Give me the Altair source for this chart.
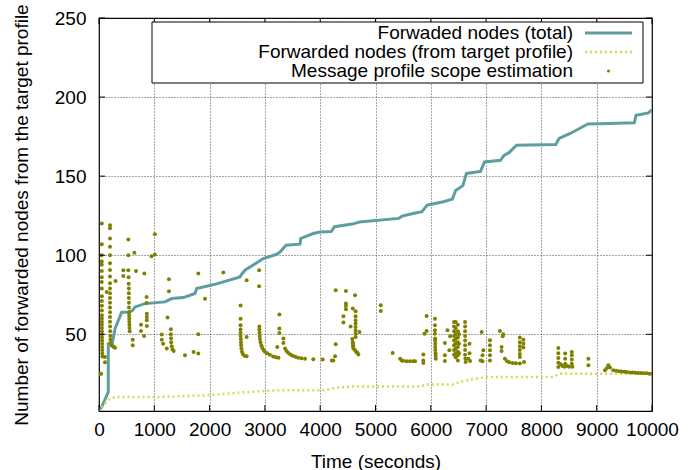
import altair as alt
import pandas as pd

# ---------------- data ----------------
total_t = [0, 48, 168, 168, 241, 290, 410, 530, 603, 651, 832, 1193, 1314, 1525, 1736, 1766,
           2098, 2550, 2580, 2640, 2881, 2971, 3213, 3273, 3382, 3635, 3647, 3875, 3996, 4200,
           4258, 4580, 4710, 5420, 5480, 5680, 5840, 5935, 6230, 6390, 6450, 6580, 6645, 6900,
           6970, 7260, 7320, 7420, 7550, 8260, 8320, 8520, 8840, 9230, 9680, 9710, 9935, 10000]
total_y = [2, 4, 13.5, 44, 44.5, 53.6, 64, 64, 65, 67.3, 69.4, 70.5, 72.6, 73.2, 75.8, 78.9,
           81.6, 86.3, 88, 90.5, 95.8, 97.9, 100.6, 102, 106.3, 107, 110.6, 113.7, 114.7, 115,
           118, 119.7, 121, 123.3, 124.7, 126.4, 127.5, 131.7, 133.8, 135.5, 141, 144, 151.7, 153,
           159, 160, 163, 165, 169.6, 170, 173.8, 177, 183, 183.3, 183.7, 188.5, 190, 192]

target_t = [0, 108, 199, 290, 1014, 1947, 2610, 3213, 4050, 4300, 4600, 5800, 5925, 6400,
            6530, 6770, 7010, 8210, 8340, 10000]
target_y = [1, 6.3, 9.3, 10.3, 10.3, 11.4, 13.3, 14.6, 14.6, 16.2, 17, 17, 18.3, 18.3,
            19.8, 21.7, 23, 23, 25.1, 25.1]

scope_points = [
    (0, 25), (20, 25), (40, 25),
    (50, 120), (50, 107), (48, 100), (50, 96), (50, 94), (50, 90), (50, 86), (50, 83), (50, 79),
    (52, 74), (52, 71), (52, 68), (52, 65), (52, 62), (52, 60), (52, 58), (52, 56), (52, 54),
    (54, 52), (54, 50), (54, 48), (56, 46), (56, 44), (58, 42), (58, 40), (60, 38), (62, 36),
    (108, 35.6), (108, 32.4), (140, 76.8),
    (199, 119), (199, 117), (199, 110.6), (199, 105.4), (199, 100), (199, 94.9), (199, 90.7),
    (199, 86.5), (199, 82.3), (199, 79), (199, 76), (199, 73), (199, 70), (199, 67), (199, 64),
    (199, 61), (199, 58), (201, 55), (203, 52), (205, 49), (207, 46.5), (210, 44.5), (230, 43),
    (250, 42.5), (270, 42), (290, 41.5), (300, 83.7),
    (440, 90.5), (440, 86.9), (530, 110), (530, 100), (530, 90.5), (535, 86), (537, 82), (540, 79),
    (540, 76), (540, 73), (542, 70), (542, 67), (545, 64), (545, 62), (547, 60), (547, 58),
    (550, 56), (552, 54), (555, 52), (610, 46.6), (610, 43), (640, 101.5), (670, 90),
    (760, 56.1), (760, 52.1), (815, 48.9), (820, 88.4), (860, 73.6), (860, 69.8), (865, 63),
    (865, 61), (865, 58.9), (865, 55.3), (950, 99.4), (1010, 100.4), (1010, 113.3),
    (1135, 49.8), (1135, 46.6), (1160, 44), (1225, 41), (1240, 60.6), (1265, 84.8), (1265, 77.2),
    (1300, 53.2), (1300, 50), (1302, 47.5), (1305, 45), (1315, 42.5), (1330, 40.5), (1350, 39.4),
    (1555, 36.7), (1710, 38.8), (1796, 37.8), (1796, 50), (1796, 88.4), (1917, 72.4), (2248, 89),
    (2560, 68.2), (2560, 59.9), (2560, 55.7), (2560, 53), (2560, 51), (2562, 49), (2565, 47),
    (2567, 45), (2570, 43), (2575, 41), (2585, 39), (2600, 37.5), (2630, 36.5), (2670, 36.1),
    (2670, 48.3), (2670, 84.2),
    (2895, 90.5), (2895, 80.4), (2900, 55), (2900, 53), (2902, 51), (2905, 49), (2910, 47),
    (2920, 45), (2935, 43), (2950, 41.5), (2975, 40), (3000, 39), (3040, 38), (3090, 37),
    (3150, 36), (3200, 35.5), (3245, 35.2), (3225, 42), (3262, 62.5), (3262, 53.6), (3262, 50.8),
    (3335, 47.3), (3335, 44.5), (3365, 41), (3390, 39.5), (3420, 38.3), (3460, 37.3), (3500, 36.5),
    (3550, 35.8), (3600, 35.2), (3660, 34.9), (3725, 34.6), (3875, 34.2), (4045, 34),
    (4210, 33.5), (4237, 33.5), (4270, 36.1), (4280, 43.7), (4280, 77.8),
    (4420, 61.4), (4420, 57.4), (4465, 77.4), (4465, 69.4), (4465, 67.9), (4465, 65.8), (4550, 55),
    (4580, 47), (4590, 66.3), (4590, 45), (4592, 44), (4595, 43), (4598, 42), (4600, 41),
    (4630, 39.9), (4650, 38.8), (4670, 38.5), (4690, 37.3), (4630, 74.7),
    (4640, 64.6), (4640, 61.4), (4640, 58.9), (4640, 56.8), (4640, 54.6), (4640, 52.5),
    (4640, 50.4), (4640, 48.3), (4710, 51.5),
    (5095, 68.4), (5095, 64.7), (5310, 38.2), (5445, 34.6), (5475, 33.5), (5500, 33.2),
    (5560, 32.9), (5620, 32.9), (5680, 32.9), (5715, 32.9),
    (5865, 37.3), (5865, 33.5), (5865, 31.8), (5885, 50.4), (5925, 52.1), (5925, 61.6),
    (6075, 59.9), (6075, 55.7), (6075, 52.5), (6075, 50.4), (6078, 47.3), (6078, 46), (6080, 44),
    (6080, 42), (6082, 40), (6085, 38), (6088, 36.5), (6090, 34.6),
    (6255, 44.5), (6255, 36.7), (6255, 33.1), (6300, 52.5), (6335, 39.9), (6350, 48.7),
    (6420, 57.8), (6420, 55), (6420, 52), (6420, 49), (6420, 46), (6420, 43), (6420, 40), (6420, 37),
    (6450, 57.8), (6450, 54), (6450, 50), (6450, 47), (6450, 44), (6450, 41), (6450, 38), (6450, 35.5),
    (6490, 56), (6490, 52), (6490, 48), (6490, 45), (6490, 42), (6490, 39), (6490, 36.7), (6490, 33.5),
    (6510, 50), (6510, 44), (6510, 38),
    (6620, 57.8), (6620, 55), (6620, 52), (6620, 49), (6620, 46), (6620, 43), (6620, 40), (6620, 37),
    (6625, 34.5), (6630, 32.5), (6680, 34.6), (6710, 33.1), (6700, 44), (6700, 38),
    (6900, 33.5), (6920, 51.5), (6935, 36.7), (6935, 32.9), (6950, 39.9), (7070, 46.2), (7070, 43),
    (7070, 39.9), (7070, 36.7), (7070, 33.5),
    (7250, 52.1), (7280, 42), (7280, 39.4), (7300, 48.7), (7310, 50), (7340, 34.6), (7380, 33),
    (7420, 32.3), (7480, 31.9), (7540, 31.7), (7610, 31.6),
    (7610, 47.9), (7610, 45), (7610, 42.5), (7610, 40), (7610, 37.5), (7610, 35.6), (7675, 46.6),
    (7675, 44.1), (7675, 41.6), (7685, 32.5),
    (8306, 41.3), (8306, 38), (8306, 35), (8306, 32), (8306, 29.3), (8350, 31), (8380, 30),
    (8420, 29.5), (8430, 37.8), (8430, 34.6), (8430, 31.4), (8470, 30), (8500, 29.5), (8550, 38.8),
    (8550, 36.7), (8550, 34), (8550, 31.4), (8560, 29.5), (8850, 34.6), (8850, 30.4),
    (9150, 27.2), (9180, 28.5), (9210, 30.4), (9240, 29), (9300, 27.2), (9350, 27), (9400, 26.6),
    (9450, 26.5), (9500, 26.3), (9543, 26.1), (9600, 25.9), (9650, 25.8), (9700, 25.7),
    (9750, 25.6), (9800, 25.5), (9850, 25.4), (9905, 25.3), (9950, 25.1), (10000, 25),
]

x_ticks = list(range(0, 10001, 1000))
y_ticks = [50, 100, 150, 200, 250]
legend_labels = ["Forwaded nodes (total)",
                 "Forwarded nodes (from target profile)",
                 "Message profile scope estimation"]

# ---------------- styling ----------------
W, H = 553, 393
FONT = "Liberation Sans"
FS = 19
C_TOTAL = "#5f9ea0"
C_TARGET = "#d8d852"
C_SCOPE = "#808000"

total_df = pd.DataFrame({"t": total_t, "y": total_y, "i": range(len(total_t))})
target_df = pd.DataFrame({"t": target_t, "y": target_y})
scope_df = pd.DataFrame(scope_points, columns=["t", "y"])
xt_df = pd.DataFrame({"v": x_ticks})
yt_df = pd.DataFrame({"v": y_ticks})
one = pd.DataFrame({"a": [0]})

xs = alt.Scale(domain=[0, 10000], nice=False, zero=False)
ys = alt.Scale(domain=[1.5, 250], nice=False, zero=False)

x_axis = alt.Axis(values=x_ticks, format="d", title="Time (seconds)", grid=True,
                  gridDash=[1, 2], gridColor="#222", gridOpacity=0.8, ticks=False, tickSize=0,
                  domain=False, labelFont=FONT, labelFontSize=FS, labelColor="#000",
                  labelPadding=9, labelFlush=False,
                  titleFont=FONT, titleFontSize=FS, titleFontWeight="normal", titleColor="#000",
                  titleY=50, titleBaseline="middle")
y_axis = alt.Axis(values=y_ticks, format="d",
                  title="Number of forwarded nodes from the target profile", grid=True,
                  gridDash=[1, 2], gridColor="#222", gridOpacity=0.8, ticks=False, tickSize=0,
                  domain=False, labelFont=FONT, labelFontSize=FS, labelColor="#000",
                  labelPadding=13, labelFlush=False,
                  titleFont=FONT, titleFontSize=FS, titleFontWeight="normal", titleColor="#000",
                  titleAngle=270, titleX=-78, titleY=H / 2, titleAlign="center",
                  titleBaseline="middle")

total_line = alt.Chart(total_df).mark_line(color=C_TOTAL, strokeWidth=3, clip=True).encode(
    x=alt.X("t:Q", scale=xs, axis=x_axis),
    y=alt.Y("y:Q", scale=ys, axis=y_axis),
    order=alt.Order("i:Q"),
)

target_line = alt.Chart(target_df).mark_line(color=C_TARGET, strokeWidth=2.5,
                                             strokeDash=[2, 3], clip=True).encode(
    x=alt.X("t:Q", scale=xs), y=alt.Y("y:Q", scale=ys))

scope = alt.Chart(scope_df).mark_circle(color=C_SCOPE, size=16, opacity=1, clip=True).encode(
    x=alt.X("t:Q", scale=xs), y=alt.Y("y:Q", scale=ys))

# inward ticks on all four sides
tick_len = 6
bottom_ticks = alt.Chart(xt_df).mark_rule(color="#000").encode(
    x=alt.X("v:Q", scale=xs), y=alt.value(H), y2=alt.value(H - tick_len))
top_ticks = alt.Chart(xt_df).mark_rule(color="#000").encode(
    x=alt.X("v:Q", scale=xs), y=alt.value(0), y2=alt.value(tick_len))
left_ticks = alt.Chart(yt_df).mark_rule(color="#000").encode(
    y=alt.Y("v:Q", scale=ys), x=alt.value(0), x2=alt.value(tick_len))
right_ticks = alt.Chart(yt_df).mark_rule(color="#000").encode(
    y=alt.Y("v:Q", scale=ys), x=alt.value(W), x2=alt.value(W - tick_len))

# legend (drawn manually, gnuplot style: label left, sample right)
LX0, LX1, LY0, LY1 = 53, 544, 4, 65
row_y = [15, 34, 53]
text_x = 474
samp_x0, samp_x1 = 486, 533

legend_box = alt.Chart(one).mark_rect(fill="white", stroke="#000", strokeWidth=1).encode(
    x=alt.value(LX0), x2=alt.value(LX1), y=alt.value(LY0), y2=alt.value(LY1))
legend_texts = [
    alt.Chart(one).mark_text(text=lab, font=FONT, fontSize=FS, align="right",
                             baseline="middle", color="#000").encode(
        x=alt.value(text_x), y=alt.value(ry))
    for lab, ry in zip(legend_labels, row_y)
]
leg_total = alt.Chart(one).mark_rule(color=C_TOTAL, strokeWidth=3).encode(
    x=alt.value(samp_x0), x2=alt.value(samp_x1), y=alt.value(row_y[0]))
leg_target = alt.Chart(one).mark_rule(color=C_TARGET, strokeWidth=2.5, strokeDash=[2, 3]).encode(
    x=alt.value(samp_x0), x2=alt.value(samp_x1), y=alt.value(row_y[1]))
leg_scope = alt.Chart(one).mark_circle(color=C_SCOPE, size=10, opacity=1).encode(
    x=alt.value((samp_x0 + samp_x1) / 2), y=alt.value(row_y[2]))

chart = alt.layer(
    total_line, target_line, scope,
    bottom_ticks, top_ticks, left_ticks, right_ticks,
    legend_box, *legend_texts, leg_total, leg_target, leg_scope,
).properties(
    width=W, height=H,
    autosize=alt.AutoSizeParams(type="none"),
    padding={"left": 99, "top": 18, "right": 48, "bottom": 59},
    background="white",
).configure_view(
    stroke="#000", strokeWidth=1.2
)

chart.save("out.html", embed_options={"renderer": "svg", "actions": False})
